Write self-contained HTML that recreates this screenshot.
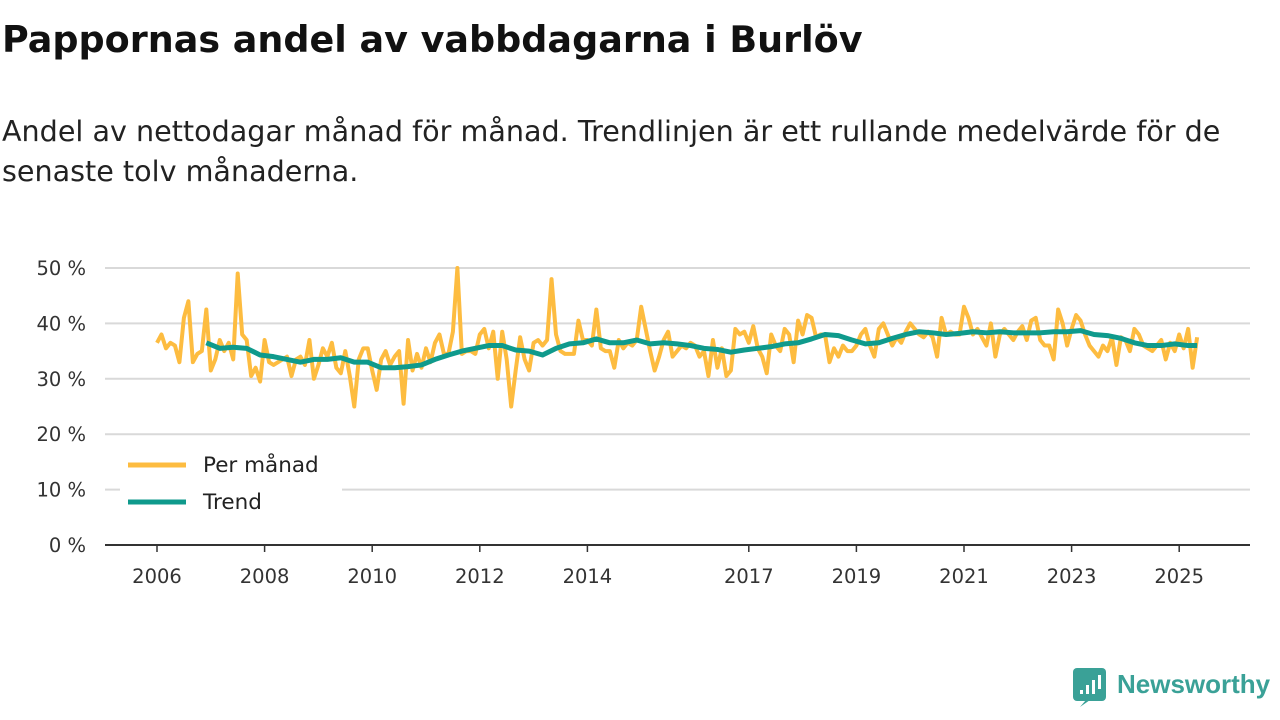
<!DOCTYPE html>
<html><head><meta charset="utf-8"><style>
body{margin:0;width:1280px;height:720px;background:#fff;font-family:"DejaVu Sans","Liberation Sans",sans-serif;overflow:hidden;position:relative}
h1{position:absolute;left:2px;top:18px;margin:0;font-size:36.5px;font-weight:bold;color:#111;white-space:nowrap}
p{position:absolute;left:2px;top:111px;margin:0;font-size:28.6px;line-height:40px;color:#222;width:1275px;white-space:nowrap}
</style></head><body>
<h1>Pappornas andel av vabbdagarna i Burlöv</h1>
<p>Andel av nettodagar månad för månad. Trendlinjen är ett rullande medelvärde för de<br>senaste tolv månaderna.</p>
<svg id="c" width="1280" height="720" style="position:absolute;left:0;top:0"></svg>
<script>
const monthly=[36.5,38,35.5,36.5,36,33,41,44,33,34.5,35,42.5,
31.5,33.5,37,35,36.5,33.5,49,38,37,30.5,32,29.5,
37,33,32.5,33,33.5,34,30.5,33.5,34,32.5,37,30,
32.5,35.5,34,36.5,32,31,35,30.5,25,33.5,35.5,35.5,
31.5,28,33.5,35,32.5,34,35,25.5,37,31.5,34.5,32,
35.5,33,36.5,38,34.5,34.5,38.5,50,34.5,35,35,34.5,
38,39,35.5,38.5,30,38.5,33.5,25,31.5,37.5,33.5,31.5,
36.5,37,36,37,48,38,35,34.5,34.5,34.5,40.5,37,
37,36,42.5,35.5,35,35,32,37,35.5,36.5,36,37,
43,39,35,31.5,34,37,38.5,34,35,36,35.5,36.5,
36,34,35,30.5,37,32,35.5,30.5,31.5,39,38,38.5,
36.5,39.5,35.5,34,31,38,36,35,39,38,33,40.5,
38,41.5,41,37.5,38,38,33,35.5,34,36,35,35,
36,38,39,36,34,39,40,38,36,37.5,36.5,38.5,
40,39,38,37.5,38.5,37.5,34,41,38,38.5,38,38,
43,41,38,39,37.5,36,40,34,38,39,38,37,
38.5,39.5,37,40.5,41,37,36,36,33.5,42.5,40,36,
39,41.5,40.5,38,36,35,34,36,35,37.5,32.5,37.5,
37,35,39,38,36,35.5,35,36,37,33.5,36.5,35,
38,35.5,39,32,37.5];
const trendStartMonth=11, trendStep=3;
const trend=[36.5,35.5,35.7,35.5,34.3,34,33.5,33,33.5,33.5,33.8,33,33,32,32,32.2,32.5,33.5,34.3,35,35.5,36,36,35.2,35,34.3,35.5,36.3,36.5,37.2,36.5,36.5,37,36.3,36.5,36.3,36,35.5,35.3,34.8,35.2,35.5,35.8,36.3,36.5,37.2,38,37.8,37,36.3,36.5,37.3,38,38.5,38.3,38,38.2,38.5,38.3,38.5,38.3,38.3,38.3,38.5,38.5,38.7,38,37.8,37.3,36.5,36,36,36.3,36,36];
const yTicks=[0,10,20,30,40,50];
const xYears=[2006,2008,2010,2012,2014,2017,2019,2021,2023,2025];
const NS="http://www.w3.org/2000/svg",svg=document.getElementById('c');
const X=m=>157+m*53.8/12, Y=v=>545-v*5.54;
function el(t,a,p){const e=document.createElementNS(NS,t);for(const k in a)e.setAttribute(k,a[k]);(p||svg).appendChild(e);return e;}
yTicks.forEach(v=>{
 if(v>0){const g=el('line',{x1:105,x2:1250,y1:Y(v),y2:Y(v),stroke:'#d9d9d9','stroke-width':2});
 
 }
 const t=el('text',{x:86,y:Y(v)+7,'text-anchor':'end','font-size':19.5,fill:'#333'});t.textContent=v+' %';
 
 
});
const ax=el('line',{x1:105,x2:1250,y1:545,y2:545,stroke:'#333','stroke-width':2});


xYears.forEach(yr=>{const x=X((yr-2006)*12);
 el('line',{x1:x,x2:x,y1:545,y2:552,stroke:'#333','stroke-width':1.5});
 const t=el('text',{x:x,y:583,'text-anchor':'middle','font-size':19.5,fill:'#333'});t.textContent=yr;
 
 
});
const mp=el('polyline',{points:monthly.map((v,i)=>X(i)+','+Y(v)).join(' '),fill:'none',stroke:'#fdbc40','stroke-width':4,'stroke-linejoin':'round'});


const tp=el('polyline',{points:trend.map((v,i)=>X(Math.min(trendStartMonth+i*trendStep,monthly.length-1))+','+Y(v)).join(' '),fill:'none',stroke:'#0f9a8c','stroke-width':5,'stroke-linejoin':'round'});


const lg=el('g',{});


el('rect',{x:120,y:448,width:222,height:74,fill:'#fff'},lg);
el('line',{x1:128,x2:186,y1:465,y2:465,stroke:'#fdbc40','stroke-width':5},lg);
el('line',{x1:128,x2:186,y1:502,y2:502,stroke:'#0f9a8c','stroke-width':5},lg);
let t1=el('text',{x:203,y:472,'font-size':21.5,fill:'#222'},lg);t1.textContent='Per månad';
let t2=el('text',{x:203,y:509,'font-size':21.5,fill:'#222'},lg);t2.textContent='Trend';
const lo=el('g',{});


el('rect',{x:1073,y:668,width:33,height:33,rx:4,fill:'#3aa197'},lo);
el('path',{d:'M1080 707 L1086 700 L1090 700 Z',fill:'#3aa197'},lo);
[[1080,690,4],[1086,685,9],[1092,680,14],[1098,675,19]].forEach(b=>el('rect',{x:b[0],y:b[1],width:3,height:b[2]>14?14:b[2],fill:'#fff'},lo));
let lt=el('text',{x:1117,y:693,'font-size':26,'font-weight':'bold',fill:'#3aa197','font-family':'Liberation Sans, sans-serif'},lo);lt.textContent='Newsworthy';
</script>
</body></html>
